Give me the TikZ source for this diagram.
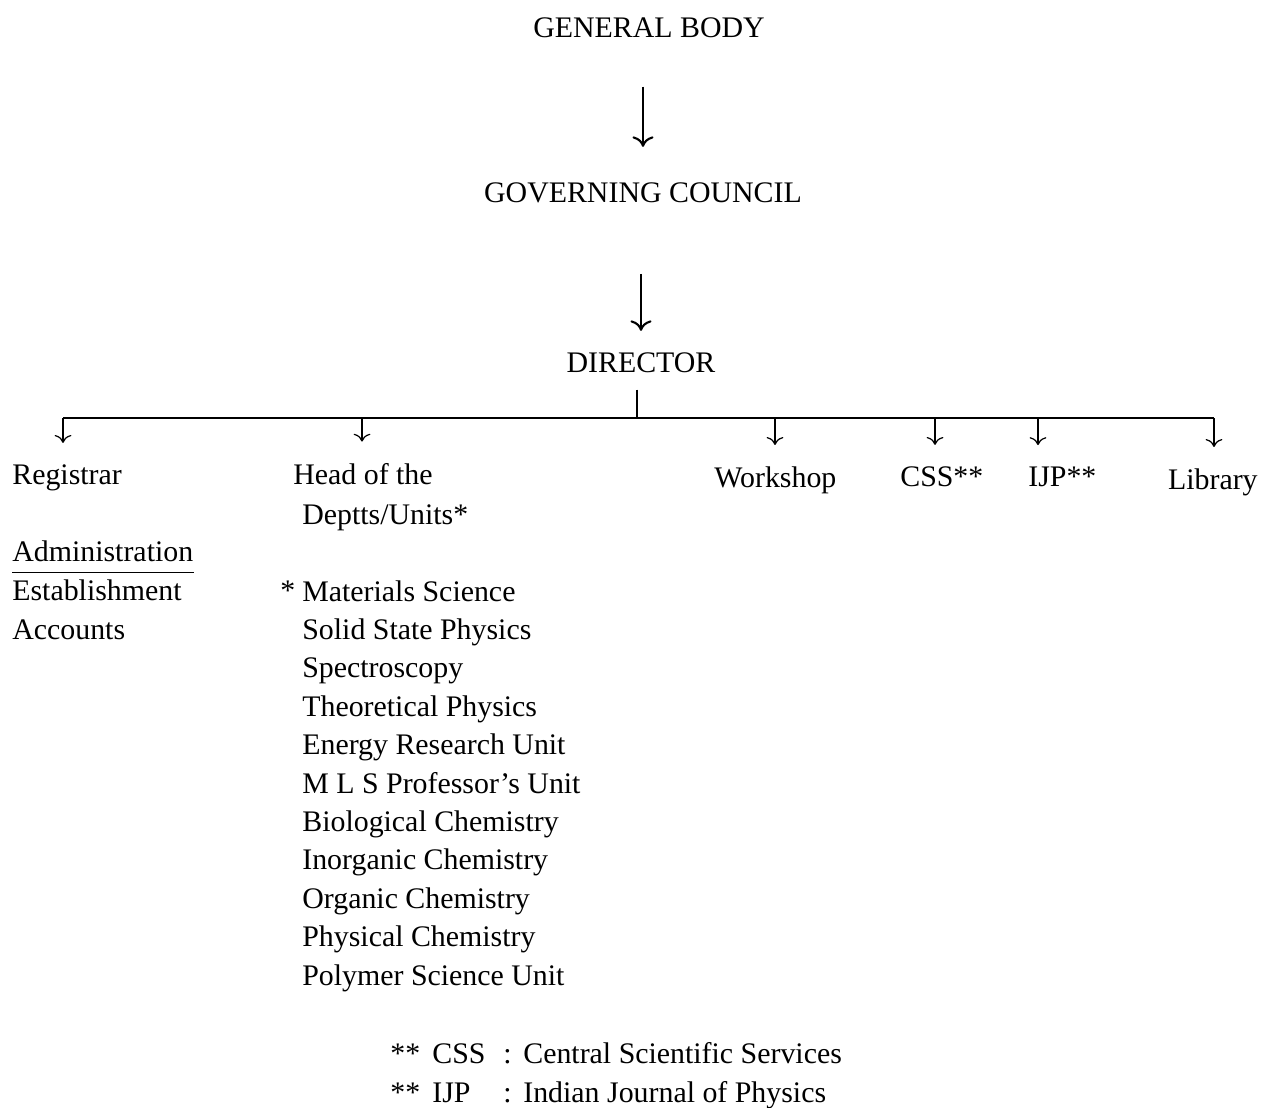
\documentclass[tikz,border=0pt]{standalone}
\usepackage{fontspec}
\setmainfont{Liberation Serif}
\usetikzlibrary{arrows.meta}

\begin{document}
\begin{tikzpicture}[x=0.02cm, y=-0.02cm,
	every node/.style={font=\fontsize{17}{20}\selectfont, inner sep=0pt},
	lbl/.style={anchor=base west},
	mainarrow/.style={-{To[length=6pt,width=12pt]}, line width=1.2pt},
	branch/.style={-{To[length=4.5pt,width=9.5pt]}, line width=0.7pt},
	bus/.style={line width=0.8pt}]
	\useasboundingbox (0,0) rectangle (1262,1107);
	\node[anchor=base] (body) at (649,37) {GENERAL BODY};
	\node[anchor=base] (council) at (643,202) {GOVERNING COUNCIL};
	\node[anchor=base] (director) at (641,372) {DIRECTOR};
	\draw[mainarrow] ([yshift=-0.98cm]council.north |- body.south) -- ([yshift=0.7cm]council.north);
	\draw[mainarrow] ([yshift=-1.42cm]director.north |- council.south) -- ([yshift=0.42cm]director.north);
	\coordinate (busmid) at (637,418);
	\draw[bus] ([yshift=-0.34cm]busmid |- director.south) -- (busmid);
	\node[lbl] (registrar) at (12,484) {Registrar};
	\node[lbl] (head) at (293,484) {Head of the};
	\node[lbl] (deptts) at (302,524) {Deptts/Units*};
	\node[lbl] (workshop) at (714,487) {Workshop};
	\node[lbl] (css) at (900,486) {CSS**};
	\node[lbl] (ijp) at (1028,486) {IJP**};
	\node[anchor=base east] (library) at (1258,489) {Library};
	\draw[bus] (63,418) coordinate (busleft) -- (1214,418) coordinate (busright);
	\foreach \n/\x in {registrar/63, head/362, workshop/775, css/935, ijp/1038, library/1214} {
		\coordinate (tap\n) at (\x,418);
		\draw[branch] (tap\n) -- ([yshift=0.42cm]tap\n |- \n.north);
	}
	\node[lbl] (admin) at (12,561) {Administration};
	\draw[line width=0.7pt] ([yshift=-0.22cm]admin.south west) -- ([yshift=-0.22cm]admin.south east);
	\node[lbl] (estab) at (12,600) {Establishment};
	\node[lbl] (accounts) at (12,639) {Accounts};
	\node[lbl] (star) at (280,600) {*};
	\foreach \d [count=\i from 0] in {Materials Science, Solid State Physics, Spectroscopy, Theoretical Physics, Energy Research Unit, M L S Professor's Unit, Biological Chemistry, Inorganic Chemistry, Organic Chemistry, Physical Chemistry, Polymer Science Unit}
		\node[lbl] (dept\i) at (302,{601+38.4*\i}) {\d};
	\node[lbl] (fnstarA) at (390,1063) {**};
	\node[lbl] (fncss) at (432,1063) {CSS};
	\node[lbl] (fncolA) at (503,1063) {:};
	\node[lbl] (fncssfull) at (523,1063) {Central Scientific Services};
	\node[lbl] (fnstarB) at (390,1102) {**};
	\node[lbl] (fnijp) at (432,1102) {IJP};
	\node[lbl] (fncolB) at (503,1102) {:};
	\node[lbl] (fnijpfull) at (523,1102) {Indian Journal of Physics};
\end{tikzpicture}
\end{document}
